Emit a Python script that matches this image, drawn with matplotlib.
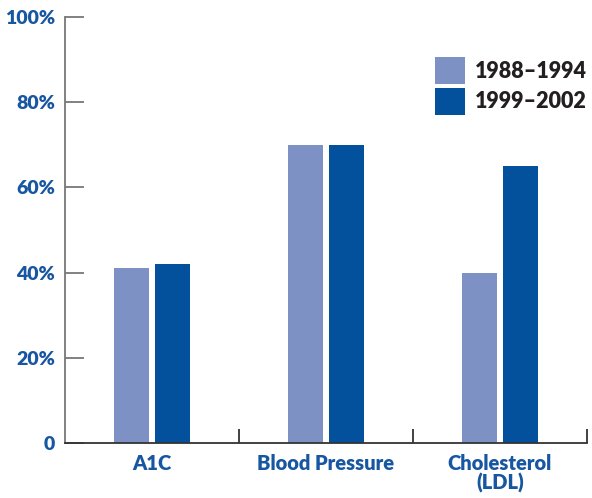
import matplotlib.pyplot as plt
import numpy as np

# data
categories = ["A1C", "Blood Pressure", "Cholesterol\n(LDL)"]
series_names = ["1988\u20131994", "1999\u20132002"]
early = [41, 70, 40]
late = [42, 70, 65]
y_ticks = [0, 20, 40, 60, 80, 100]
y_labels = ["0", "20%", "40%", "60%", "80%", "100%"]

plt.rcParams["font.family"] = ["Lato", "DejaVu Sans"]

blue_text = "#1756a0"
light = "#7d91c4"
dark = "#03509c"

fig = plt.figure(figsize=(5.92, 4.98), dpi=100)
ax = fig.add_axes([65 / 592, 55 / 498, (587 - 65) / 592, (444 - 18) / 498])

x = np.arange(len(categories))
w = 0.2
gap = 0.035
ax.bar(x - (w + gap) / 2, early, w, color=light, label=series_names[0])
ax.bar(x + (w + gap) / 2, late, w, color=dark, label=series_names[1])

ax.set_xlim(-0.5, 2.5)
ax.set_ylim(0, 100)

ax.spines["top"].set_visible(False)
ax.spines["right"].set_visible(False)
ax.spines["left"].set_color("#777777")
ax.spines["left"].set_linewidth(1.3)
ax.spines["bottom"].set_color("#333333")
ax.spines["bottom"].set_linewidth(1.3)

ax.set_yticks(y_ticks)
ax.set_yticklabels(y_labels, fontsize=14, fontweight="heavy", color=blue_text)
ax.tick_params(axis="y", direction="in", length=14, width=1.3, color="#777777", pad=7)

ax.set_xticks(x)
ax.set_xticklabels(categories, fontsize=14.5, fontweight="heavy", color=blue_text,
                   linespacing=1.0, va="top")
ax.tick_params(axis="x", which="major", length=0, pad=8)
ax.set_xticks([0.5, 1.5, 2.5], minor=True)
ax.tick_params(axis="x", which="minor", direction="in", length=10, width=1.3,
               color="#333333")

leg = ax.legend(loc="upper right", bbox_to_anchor=(1.0, 0.905), frameon=False,
                fontsize=15.5, handlelength=1.4, handleheight=1.55,
                handletextpad=0.45, labelspacing=0.15, borderaxespad=0,
                borderpad=0)
for t in leg.get_texts():
    t.set_color("#231f20")
    t.set_fontweight("heavy")

fig.savefig("out.png", dpi=100)
